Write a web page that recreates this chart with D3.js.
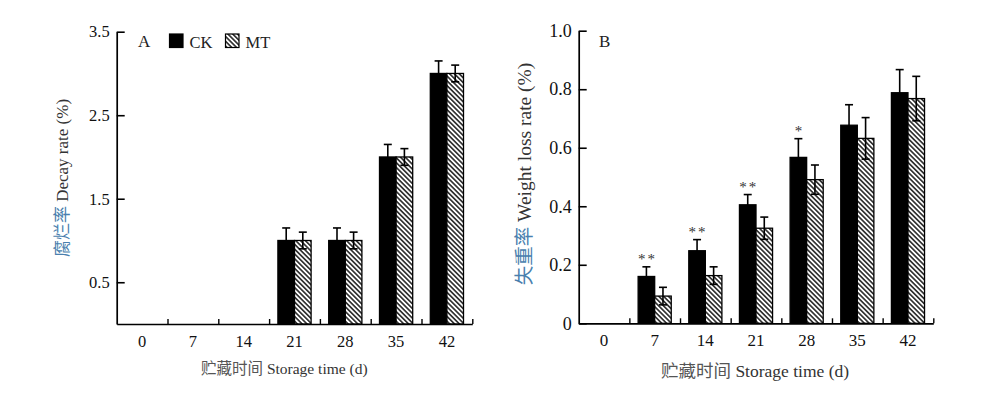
<!DOCTYPE html>
<html>
<head>
<meta charset="utf-8">
<script src="https://cdn.jsdelivr.net/npm/d3@7"></script>
<style>
    body { margin: 0; background: #fff; }
    svg { display: block; }
    text { font-family: "Liberation Serif", "Times New Roman", serif; }
    .cjk { font-family: "Noto Sans CJK SC", sans-serif; }
</style>
</head>
<body>
<div id="chart"></div>
<script>
// storage days (categories)
const days = ['0', '7', '14', '21', '28', '35', '42'];
const groups = ['CK', 'MT'];

// panel A: decay rate (%)
const decayCK = [0, 0, 0, 1.0, 1.0, 2.0, 3.0];
const decayCKErr = [0, 0, 0, 0.15, 0.15, 0.15, 0.15];
const decayMT = [0, 0, 0, 1.0, 1.0, 2.0, 3.0];
const decayMTErr = [0, 0, 0, 0.1, 0.1, 0.1, 0.1];
const decayTicks = [0.5, 1.5, 2.5, 3.5];

// panel B: weight loss rate (%)
const lossCK = [0, 0.16, 0.248, 0.405, 0.567, 0.677, 0.788];
const lossCKErr = [0, 0.033, 0.038, 0.035, 0.064, 0.07, 0.079];
const lossMT = [0, 0.093, 0.163, 0.325, 0.491, 0.632, 0.768];
const lossMTErr = [0, 0.03, 0.03, 0.038, 0.05, 0.071, 0.076];
const lossTicks = [0, 0.2, 0.4, 0.6, 0.8, 1.0];
const lossSignif = ['', '**', '**', '**', '*', '', ''];

const svg = d3.select('#chart')
    .append('svg')
    .attr('width', 1000)
    .attr('height', 395);

// hatch for MT bars
const pattern = svg.append('defs')
    .append('pattern')
    .attr('id', 'hatch')
    .attr('patternUnits', 'userSpaceOnUse')
    .attr('width', 3.4)
    .attr('height', 3.4)
    .attr('patternTransform', 'rotate(-45)');
pattern.append('rect').attr('width', 3.4).attr('height', 3.4).attr('fill', '#fff');
pattern.append('line')
    .attr('x1', 1.7).attr('y1', 0).attr('x2', 1.7).attr('y2', 3.4)
    .attr('stroke', '#000').attr('stroke-width', 1.35);

function drawPanel(p) {
    const g = svg.append('g');

    const x = d3.scaleBand().domain(days).range([p.left, p.right]);
    const sub = d3.scaleBand().domain(groups).range([0, x.bandwidth()]).paddingOuter(0.53);
    const xLin = d3.scaleLinear().domain([0, days.length]).range([p.left, p.right]);
    const y = d3.scaleLinear().domain(p.domain).range([p.bottom, p.top]);

    const rows = days.map((d, i) => ({
        day: d,
        sig: p.signif ? p.signif[i] : '',
        bars: [
            { key: 'CK', value: p.ck[i], err: p.ckErr[i] },
            { key: 'MT', value: p.mt[i], err: p.mtErr[i] }
        ]
    }));

    const cat = g.selectAll('g.cat')
        .data(rows)
        .enter()
        .append('g')
        .attr('class', 'cat')
        .attr('transform', (d) => `translate(${x(d.day)},0)`);

    const bar = cat.selectAll('g.bar')
        .data((d) => d.bars.filter((b) => b.value > 0))
        .enter()
        .append('g')
        .attr('class', 'bar');

    bar.append('rect')
        .attr('x', (d) => sub(d.key))
        .attr('y', (d) => y(d.value))
        .attr('width', sub.bandwidth())
        .attr('height', (d) => y(0) - y(d.value))
        .attr('fill', (d) => d.key === 'CK' ? '#000' : 'url(#hatch)')
        .attr('stroke', '#000')
        .attr('stroke-width', 1.3);

    // error bars
    const cx = (d) => sub(d.key) + sub.bandwidth() / 2;
    bar.append('line')
        .attr('x1', cx).attr('x2', cx)
        .attr('y1', (d) => y(d.value - d.err))
        .attr('y2', (d) => y(d.value + d.err))
        .attr('stroke', '#000').attr('stroke-width', 1.6);
    [1, -1].forEach((s) => {
        bar.append('line')
            .attr('x1', (d) => cx(d) - 4).attr('x2', (d) => cx(d) + 4)
            .attr('y1', (d) => y(d.value + s * d.err))
            .attr('y2', (d) => y(d.value + s * d.err))
            .attr('stroke', '#000').attr('stroke-width', 1.6);
    });

    // significance marks above CK
    cat.filter((d) => d.sig)
        .append('text')
        .attr('x', sub('CK') + sub.bandwidth() / 2 + 1)
        .attr('y', (d) => y(d.bars[0].value + d.bars[0].err) - 3)
        .attr('text-anchor', 'middle')
        .attr('fill', '#333')
        .style('font-size', '15px')
        .style('letter-spacing', '2px')
        .text((d) => d.sig);

    // x axis line with inward ticks between categories
    g.append('g')
        .attr('transform', `translate(0,${p.bottom})`)
        .call(d3.axisBottom(xLin)
            .tickValues(d3.range(1, days.length + 1))
            .tickSizeInner(-5)
            .tickSizeOuter(0)
            .tickFormat(''))
        .call((a) => a.select('.domain').attr('stroke-width', 1.7))
        .call((a) => a.selectAll('.tick line').attr('stroke-width', 1.4));

    g.append('g')
        .attr('transform', `translate(0,${p.bottom})`)
        .call(d3.axisBottom(x).tickSize(0).tickPadding(11))
        .call((a) => a.select('.domain').remove())
        .call((a) => a.selectAll('text')
            .attr('fill', '#111')
            .style('font-family', '"Liberation Serif", serif')
            .style('font-size', p.xTickSize));

    g.append('g')
        .attr('transform', `translate(${p.left},0)`)
        .call(d3.axisLeft(y)
            .tickValues(p.ticks)
            .tickSizeInner(-8)
            .tickSizeOuter(0)
            .tickPadding(7)
            .tickFormat((d) => d === 0 ? '0' : d3.format('.1f')(d)))
        .call((a) => a.select('.domain').attr('stroke-width', 1.7))
        .call((a) => a.selectAll('.tick line').attr('stroke-width', 1.6))
        .call((a) => a.selectAll('text')
            .attr('fill', '#111')
            .style('font-family', '"Liberation Serif", serif')
            .style('font-size', p.yTickSize));

    // y title
    const yt = g.append('text')
        .attr('transform', `translate(${p.yTitleX},${p.yTitleY}) rotate(-90)`)
        .attr('text-anchor', 'middle')
        .attr('fill', '#333')
        .style('font-size', p.yTitleSize);
    yt.append('tspan').attr('class', 'cjk').attr('fill', '#4a7fae').text(p.yTitleCn);
    yt.append('tspan').text(' ' + p.yTitleEn);

    // x title
    const xt = g.append('text')
        .attr('x', p.xTitleX)
        .attr('y', p.xTitleY)
        .attr('fill', '#333')
        .style('font-size', p.xTitleSize);
    xt.append('tspan').attr('class', 'cjk').attr('fill', '#555').text('贮藏时间');
    xt.append('tspan').text(' Storage time (d)');

    // panel letter
    g.append('text')
        .attr('x', p.letterX)
        .attr('y', 47)
        .attr('fill', '#222')
        .style('font-size', '17px')
        .text(p.letter);

    return g;
}

const panelA = drawPanel({
    left: 116.7, right: 472.3, top: 31.7, bottom: 324,
    domain: [0, 3.5], ticks: decayTicks,
    ck: decayCK, ckErr: decayCKErr, mt: decayMT, mtErr: decayMTErr,
    xTickSize: '16.5px', yTickSize: '16.5px',
    yTitleCn: '腐烂率', yTitleEn: 'Decay rate (%)', yTitleX: 68, yTitleY: 178, yTitleSize: '17px',
    xTitleX: 201, xTitleY: 374, xTitleSize: '15.5px',
    letter: 'A', letterX: 138
});

drawPanel({
    left: 578.7, right: 933.3, top: 30.7, bottom: 323.3,
    domain: [0, 1.0], ticks: lossTicks,
    ck: lossCK, ckErr: lossCKErr, mt: lossMT, mtErr: lossMTErr, signif: lossSignif,
    xTickSize: '17px', yTickSize: '18px',
    yTitleCn: '失重率', yTitleEn: 'Weight loss rate (%)', yTitleX: 531, yTitleY: 174, yTitleSize: '19.5px',
    xTitleX: 661, xTitleY: 377, xTitleSize: '17.5px',
    letter: 'B', letterX: 599
});

// legend (panel A)
const legend = panelA.append('g')
    .selectAll('g')
    .data(groups)
    .enter()
    .append('g')
    .attr('transform', (d, i) => `translate(${169.5 + i * 56},34)`);
legend.append('rect')
    .attr('width', 13.5)
    .attr('height', 13.5)
    .attr('fill', (d) => d === 'CK' ? '#000' : 'url(#hatch)')
    .attr('stroke', '#000')
    .attr('stroke-width', 1.2);
legend.append('text')
    .attr('x', 20)
    .attr('y', 13.5)
    .attr('fill', '#222')
    .style('font-size', '16.5px')
    .text((d) => d);
</script>
</body>
</html>
